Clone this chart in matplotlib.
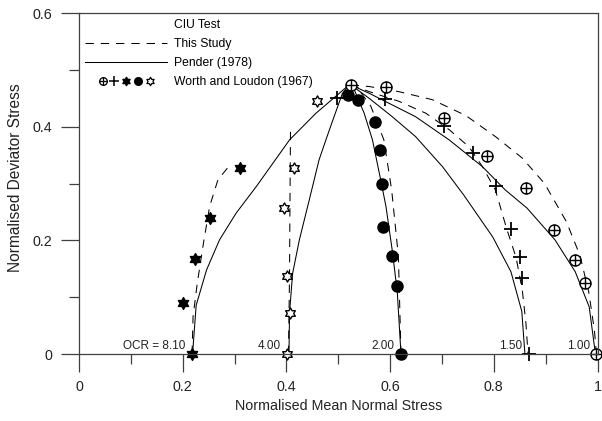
import numpy as np
import matplotlib
matplotlib.use("Agg")
import matplotlib.pyplot as plt
from matplotlib.path import Path
from matplotlib.lines import Line2D
from matplotlib.legend_handler import HandlerTuple

plt.rcParams['font.family'] = ['Liberation Sans', 'DejaVu Sans']
plt.rcParams['lines.scale_dashes'] = False

# ---- data ----
# Worth and Loudon (1967) test points
fstar_x = [0.217, 0.201, 0.223, 0.252, 0.310]           # OCR 8.10
fstar_y = [0.0, 0.090, 0.167, 0.239, 0.328]
hstar_x = [0.402, 0.407, 0.401, 0.396, 0.415, 0.459]    # OCR 4.00
hstar_y = [0.0, 0.072, 0.137, 0.257, 0.327, 0.446]
circ_x = [0.621, 0.613, 0.603, 0.587, 0.585, 0.580, 0.571, 0.539, 0.518]   # OCR 2.00
circ_y = [0.0, 0.120, 0.173, 0.223, 0.300, 0.359, 0.408, 0.447, 0.456]
plus_x = [0.867, 0.855, 0.850, 0.833, 0.805, 0.760, 0.703, 0.590, 0.497]   # OCR 1.50
plus_y = [0.0, 0.133, 0.171, 0.220, 0.296, 0.354, 0.402, 0.449, 0.450]
oplus_x = [0.998, 0.975, 0.957, 0.917, 0.863, 0.787, 0.703, 0.592, 0.524]  # OCR 1.00
oplus_y = [0.0, 0.125, 0.165, 0.218, 0.292, 0.349, 0.416, 0.470, 0.474]

# This Study (dashed)
study81_x = [0.218, 0.220, 0.228, 0.240, 0.252, 0.268, 0.294]
study81_y = [0.0, 0.066, 0.124, 0.195, 0.260, 0.307, 0.336]
study4_x = [0.404, 0.406, 0.407, 0.408]
study4_y = [0.0, 0.137, 0.284, 0.403]
study2_x = [0.621, 0.616, 0.603, 0.588, 0.563, 0.540, 0.524]
study2_y = [0.0, 0.172, 0.289, 0.377, 0.436, 0.465, 0.474]
study15_x = [0.524, 0.560, 0.617, 0.669, 0.714, 0.752, 0.778, 0.803, 0.825, 0.843, 0.855, 0.862, 0.866]
study15_y = [0.474, 0.462, 0.445, 0.424, 0.395, 0.365, 0.330, 0.289, 0.220, 0.170, 0.112, 0.054, 0.0]
study1_x = [0.524, 0.560, 0.617, 0.681, 0.746, 0.803, 0.855, 0.898, 0.940, 0.966, 0.983, 0.994, 0.998]
study1_y = [0.474, 0.471, 0.462, 0.448, 0.420, 0.383, 0.345, 0.300, 0.233, 0.174, 0.110, 0.042, 0.0]

# Pender (1978) (solid)
pender81_x = [0.219, 0.226, 0.246, 0.271, 0.303, 0.342, 0.406, 0.457, 0.521]
pender81_y = [0.0, 0.086, 0.148, 0.201, 0.248, 0.295, 0.377, 0.424, 0.474]
pender4_x = [0.405, 0.406, 0.412, 0.425, 0.444, 0.463, 0.483, 0.508, 0.521]
pender4_y = [0.0, 0.072, 0.142, 0.201, 0.271, 0.342, 0.395, 0.459, 0.474]
pender2_x = [0.621, 0.614, 0.605, 0.592, 0.582, 0.566, 0.550, 0.531, 0.521]
pender2_y = [0.0, 0.107, 0.177, 0.260, 0.306, 0.377, 0.424, 0.465, 0.474]
pender15_x = [0.524, 0.560, 0.604, 0.649, 0.701, 0.742, 0.798, 0.833, 0.854, 0.860]
pender15_y = [0.474, 0.450, 0.418, 0.383, 0.330, 0.280, 0.206, 0.145, 0.075, 0.0]
pender1_x = [0.524, 0.560, 0.649, 0.714, 0.778, 0.822, 0.864, 0.918, 0.957, 0.984, 0.996]
pender1_y = [0.474, 0.459, 0.418, 0.377, 0.330, 0.289, 0.257, 0.201, 0.145, 0.083, 0.0]

ocr_labels = ['OCR = 8.10', '4.00', '2.00', '1.50', '1.00']
ocr_start_x = [fstar_x[0], hstar_x[0], circ_x[0], plus_x[0], oplus_x[0]]

xticks = [0, 0.2, 0.4, 0.6, 0.8, 1.0]
xticklabels = ['0', '0.2', '0.4', '0.6', '0.8', '1']
yticks = [0, 0.2, 0.4, 0.6]
yticklabels = ['0', '0.2', '0.4', '0.6']

# ---- marker shapes ----
ang = np.deg2rad(90 + 30 * np.arange(12))
rad = np.where(np.arange(12) % 2 == 0, 1.0, 1 / np.sqrt(3))
v = np.column_stack([rad * np.cos(ang), rad * np.sin(ang)])
star_path = Path(np.vstack([v, v[:1]]), closed=True)
oplus_path = Path.make_compound_path(Path.unit_circle(),
                                     Path([[-1, 0], [1, 0]]),
                                     Path([[0, -1], [0, 1]]))

grey = '#404040'
fig = plt.figure(figsize=(6.02, 4.21), dpi=100)
ax = fig.add_axes([79 / 602, 67 / 421, 518.5 / 602, 340.7 / 421])

dash = (0, (6, 5))
lw = 0.75
for xs, ys in [(study81_x, study81_y), (study4_x, study4_y), (study2_x, study2_y),
               (study15_x, study15_y), (study1_x, study1_y)]:
    ax.plot(xs, ys, color='k', lw=lw, linestyle=dash)
for xs, ys in [(pender81_x, pender81_y), (pender4_x, pender4_y), (pender2_x, pender2_y),
               (pender15_x, pender15_y), (pender1_x, pender1_y)]:
    ax.plot(xs, ys, color='k', lw=lw)

ax.plot(fstar_x, fstar_y, ls='none', marker=star_path, ms=8.5, mfc='k', mec='k', clip_on=False)
ax.plot(hstar_x, hstar_y, ls='none', marker=star_path, ms=8, mfc='white', mec='k', mew=1.0, clip_on=False)
ax.plot(circ_x, circ_y, ls='none', marker='o', ms=8, mfc='k', mec='k', clip_on=False)
ax.plot(plus_x, plus_y, ls='none', marker='+', ms=10, mec='k', mew=1.3, clip_on=False)
ax.plot(oplus_x, oplus_y, ls='none', marker=oplus_path, ms=8, mfc='white', mec='k', mew=1.0, clip_on=False)

for lab, x0 in zip(ocr_labels, ocr_start_x):
    ax.text(x0 - 0.012, 0.004, lab, ha='right', va='bottom', fontsize=8.5, color='#222222')

ax.set_xlim(0, 1)
ax.set_ylim(0, 0.6)
ax.set_xticks(xticks)
ax.set_xticklabels(xticklabels)
ax.set_yticks(yticks)
ax.set_yticklabels(yticklabels)
ax.set_xticks([0.1, 0.3, 0.5, 0.7, 0.9], minor=True)
ax.set_yticks([0.1, 0.3, 0.5], minor=True)
ax.tick_params(which='major', direction='out', length=13, width=0.9, color=grey,
               labelsize=10.3, labelcolor='#222222', pad=6)
ax.tick_params(which='minor', direction='out', length=7, width=0.9, color=grey)
for s in ax.spines.values():
    s.set_color(grey)
    s.set_linewidth(0.9)

ax.set_xlabel('Normalised Mean Normal Stress', fontsize=10.3, color='#222222', labelpad=3)
ax.set_ylabel('Normalised Deviator Stress', fontsize=11.2, color='#222222')
ax.yaxis.set_label_coords(-0.108, 0.517)

# legend
blank = Line2D([], [], ls='none')
h_ciu = Line2D([], [], ls='none')
h_study = Line2D([], [], color='k', lw=lw, linestyle=dash)
h_pender = Line2D([], [], color='k', lw=lw)
lm = 5.5
h_worth = (blank,
           Line2D([], [], ls='none', marker=oplus_path, ms=lm, mfc='white', mec='k', mew=0.9),
           Line2D([], [], ls='none', marker='+', ms=lm + 1, mec='k', mew=1.1),
           Line2D([], [], ls='none', marker=star_path, ms=lm + 0.5, mfc='k', mec='k'),
           Line2D([], [], ls='none', marker='o', ms=lm, mfc='k', mec='k'),
           Line2D([], [], ls='none', marker=star_path, ms=lm + 0.5, mfc='white', mec='k', mew=0.9),
           blank)
ax.legend([h_ciu, h_study, h_pender, h_worth],
          ['CIU Test', 'This Study', 'Pender (1978)', 'Worth and Loudon (1967)'],
          handler_map={tuple: HandlerTuple(ndivide=None, pad=0)},
          loc='upper left', frameon=False, fontsize=8.7, handlelength=6.8,
          handletextpad=0.6, labelspacing=0.58, borderaxespad=0.3, borderpad=0.2)

fig.savefig('out.png', dpi=100)
